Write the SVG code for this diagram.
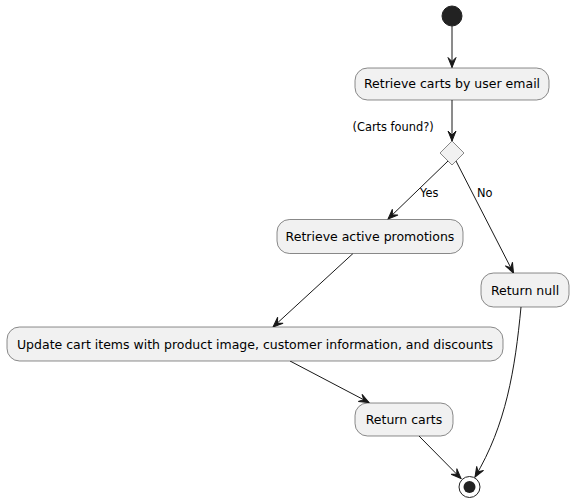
<svg xmlns="http://www.w3.org/2000/svg" width="573" height="504" viewBox="0 0 573 504">
<defs>
<marker id="arr" viewBox="-11 -5 12 10" refX="0" refY="0" markerWidth="12" markerHeight="10" markerUnits="userSpaceOnUse" orient="auto">
<path d="M0,0 L-10,-4 L-6,0 L-10,4 Z" fill="#181818" stroke="#181818" stroke-width="1" stroke-linejoin="miter"/>
</marker>
<style>
.box{fill:#F1F1F1;stroke:#181818;stroke-width:0.5}
.t{font-family:"DejaVu Sans",sans-serif;font-size:12.5px;fill:#000;text-anchor:middle}
.s{font-family:"DejaVu Sans",sans-serif;font-size:11.4px;fill:#000}
.c{fill:none;stroke:#181818;stroke-width:1;marker-end:url(#arr)}
</style>
</defs>
<rect width="573" height="504" fill="#FFFFFF"/>
<g id="connectors">
<line class="c" x1="452" y1="26" x2="452" y2="67.5"/>
<line class="c" x1="452" y1="100" x2="452" y2="141"/>
<line class="c" x1="448" y1="161" x2="388" y2="219"/>
<line class="c" x1="456" y1="161" x2="513.5" y2="273"/>
<line class="c" x1="353" y1="253.5" x2="273" y2="327"/>
<line class="c" x1="290" y1="361" x2="369" y2="402.5"/>
<line class="c" x1="419" y1="436" x2="461" y2="478.5"/>
<path class="c" d="M521,307 C515,370 506,425 475,477"/>
<text class="s" x="420" y="197">Yes</text>
<text class="s" x="477" y="197">No</text>
</g>
<g id="start"><circle cx="452" cy="16" r="10" fill="#222222" stroke="#222222" stroke-width="1"/></g>
<g id="retrieve-carts"><rect class="box" x="355" y="68" width="194" height="32" rx="12.5"/><text class="t" x="452" y="88">Retrieve carts by user email</text></g>
<g id="decision"><polygon points="452,141 464,153 452,165 440,153" fill="#F1F1F1" stroke="#181818" stroke-width="0.5"/><text class="s" x="352.5" y="131">(Carts found?)</text></g>
<g id="retrieve-promotions"><rect class="box" x="277" y="219.5" width="186" height="34" rx="12.5"/><text class="t" x="370" y="241">Retrieve active promotions</text></g>
<g id="return-null"><rect class="box" x="481" y="273" width="88" height="34" rx="12.5"/><text class="t" x="525" y="295">Return null</text></g>
<g id="update-cart"><rect class="box" x="7" y="327" width="496" height="34" rx="12.5"/><text class="t" x="255" y="349">Update cart items with product image, customer information, and discounts</text></g>
<g id="return-carts"><rect class="box" x="355" y="403" width="98" height="33" rx="12.5"/><text class="t" x="404" y="424">Return carts</text></g>
<g id="end"><circle cx="469.5" cy="487" r="10.5" fill="none" stroke="#222222" stroke-width="1"/><circle cx="469.5" cy="487" r="6" fill="#222222"/></g>
</svg>
